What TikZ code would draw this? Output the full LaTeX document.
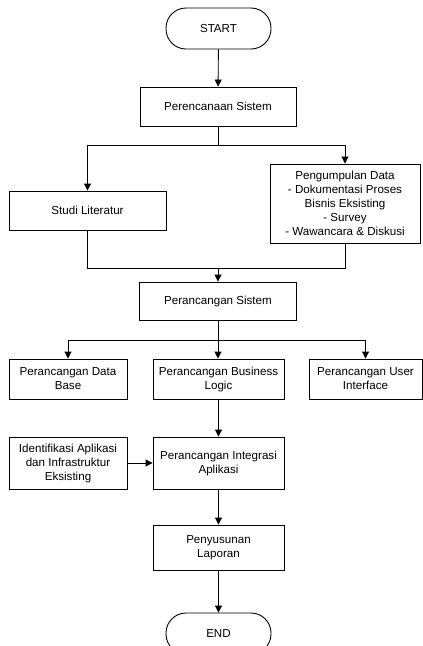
\documentclass[tikz,border=0pt]{standalone}
\usepackage{fontspec}
\setmainfont{Liberation Sans}
\usetikzlibrary{arrows.meta}
\begin{document}
\begin{tikzpicture}[x=1pt,y=-1pt,
  every node/.style={font=\fontsize{11.6}{14}\selectfont, align=center, inner sep=0pt},
  box/.style={draw, line width=0.9pt, rectangle},
  term/.style={draw, line width=0.9pt, rectangle, rounded corners=20pt},
  conn/.style={line width=0.9pt},
  arr/.style={conn, -{Triangle[width=7pt,length=7pt]}}]
\clip (0,0) rectangle (423,646);
\useasboundingbox (0,0) rectangle (423,646);
\node[term, minimum width=105pt, minimum height=41pt] (start) at (218.5,28.5) {START};
\node[box, minimum width=156pt, minimum height=39pt] (pr) at (218,106.5) {Perencanaan Sistem};
\node[box, minimum width=157pt, minimum height=39pt] (sl) at (87.5,210.5) {Studi Literatur};
\node[box, minimum width=150pt, minimum height=79pt] (pd) at (345,203.5) {Pengumpulan Data\\- Dokumentasi Proses\\Bisnis Eksisting\\- Survey\\- Wawancara \& Diskusi};
\node[box, minimum width=157pt, minimum height=38pt] (ps) at (218,301) {Perancangan Sistem};
\node[box, minimum width=118pt, minimum height=40pt] (db) at (68,379) {Perancangan Data\\Base};
\node[box, minimum width=131pt, minimum height=40pt] (bl) at (218.5,379) {Perancangan Business\\Logic};
\node[box, minimum width=113pt, minimum height=40pt] (ui) at (365.5,379) {Perancangan User\\Interface};
\node[box, minimum width=131pt, minimum height=52pt] (ia) at (218.5,463) {Perancangan Integrasi\\Aplikasi};
\node[box, minimum width=118pt, minimum height=52pt] (id) at (68,463) {Identifikasi Aplikasi\\dan Infrastruktur\\Eksisting};
\node[box, minimum width=131pt, minimum height=45pt] (pl) at (218.5,547.5) {Penyusunan\\Laporan};
\node[term, minimum width=105pt, minimum height=41pt] (end) at (218.5,633.5) {END};
\coordinate (s1) at (218,145);
\coordinate (m1) at (218,268);
\coordinate (s2) at (218,340);
\draw[arr] (start) -- (pr);
\draw[conn] (pr.south) -- (s1);
\draw[arr] (s1) -| (sl.north);
\draw[arr] (s1) -| (pd.north);
\draw[conn] (sl.south) |- (m1);
\draw[conn] (pd.south) |- (m1);
\draw[arr] (m1) -- (ps.north);
\draw[conn] (ps.south) -- (s2);
\draw[arr] (s2) -| (db.north);
\draw[arr] (s2) -| (ui.north);
\draw[arr] (s2) -- (s2 |- bl.north);
\draw[arr] (bl) -- (ia);
\draw[arr] (id) -- (ia);
\draw[arr] (ia) -- (pl);
\draw[arr] (pl) -- (end);
\end{tikzpicture}
\end{document}
